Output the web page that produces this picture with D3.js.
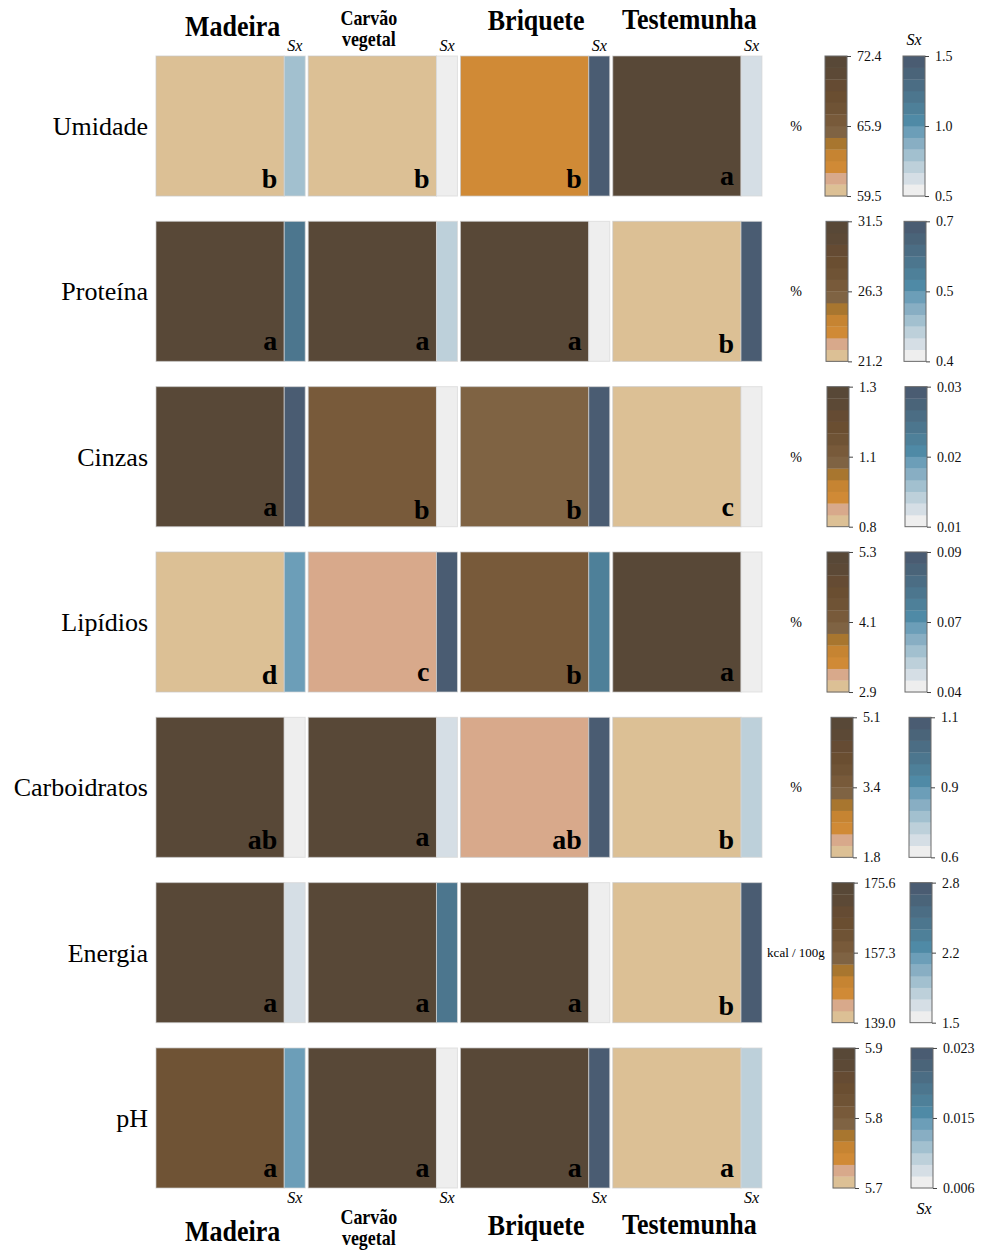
<!DOCTYPE html>
<html>
<head>
<meta charset="utf-8">
<script src="https://cdn.jsdelivr.net/npm/d3@7"></script>
<style>
  body { margin: 0; background: #fff; }
  svg { display: block; }
</style>
</head>
<body>
<svg id="chart" width="981" height="1251"></svg>
<script>
// Treatments (columns) and measured variables (rows)
const treatments = ["Madeira", "Carvão vegetal", "Briquete", "Testemunha"];
const variables = ["Umidade", "Proteína", "Cinzas", "Lipídios", "Carboidratos", "Energia", "pH"];
const units = ["%", "%", "%", "%", "%", "kcal / 100g", ""];

// Means per variable, in treatment order
const umidade      = [59.5, 60.1, 62.2, 72.4];
const proteina     = [31.2, 31.0, 31.5, 21.2];
const cinzas       = [1.31, 1.08, 1.04, 0.81];
const lipidios     = [2.9, 3.2, 4.2, 5.3];
const carboidratos = [4.9, 5.1, 2.2, 1.8];
const energia      = [175.6, 175.1, 174.8, 139.0];
const ph           = [5.82, 5.90, 5.89, 5.70];

// Standard errors (Sx) per variable, in treatment order
const umidadeSx      = [0.80, 0.50, 1.50, 0.62];
const proteinaSx     = [0.61, 0.46, 0.40, 0.70];
const cinzasSx       = [0.030, 0.010, 0.029, 0.010];
const lipidiosSx     = [0.063, 0.090, 0.071, 0.040];
const carboidratosSx = [0.60, 0.65, 1.10, 0.71];
const energiaSx      = [1.62, 2.40, 1.50, 2.80];
const phSx           = [0.0135, 0.006, 0.023, 0.009];

// Mean-comparison letters
const umidadeLetters      = ["b", "b", "b", "a"];
const proteinaLetters     = ["a", "a", "a", "b"];
const cinzasLetters       = ["a", "b", "b", "c"];
const lipidiosLetters     = ["d", "c", "b", "a"];
const carboidratosLetters = ["ab", "a", "ab", "b"];
const energiaLetters      = ["a", "a", "a", "b"];
const phLetters           = ["a", "a", "a", "a"];

// Legend tick labels (min, mid, max)
const meanTicks = [
  ["59.5", "65.9", "72.4"], ["21.2", "26.3", "31.5"], ["0.8", "1.1", "1.3"],
  ["2.9", "4.1", "5.3"], ["1.8", "3.4", "5.1"], ["139.0", "157.3", "175.6"], ["5.7", "5.8", "5.9"]
];
const sxTicks = [
  ["0.5", "1.0", "1.5"], ["0.4", "0.5", "0.7"], ["0.01", "0.02", "0.03"],
  ["0.04", "0.07", "0.09"], ["0.6", "0.9", "1.1"], ["1.5", "2.2", "2.8"], ["0.006", "0.015", "0.023"]
];

const means = [umidade, proteina, cinzas, lipidios, carboidratos, energia, ph];
const sxs = [umidadeSx, proteinaSx, cinzasSx, lipidiosSx, carboidratosSx, energiaSx, phSx];
const letters = [umidadeLetters, proteinaLetters, cinzasLetters, lipidiosLetters,
                 carboidratosLetters, energiaLetters, phLetters];

// 12-step palettes, low → high
const brownPalette = ["#dcc095", "#d8a98b", "#d08a36", "#c68432", "#a8762f", "#7f6343",
                      "#785a3a", "#6f5335", "#6a4e31", "#654b33", "#5c4936", "#584837"];
const bluePalette = ["#eeeeee", "#d5dee5", "#bdd0da", "#a2c0cf", "#88aec3", "#6c9eb8",
                     "#4f8aa6", "#4e8099", "#4c768e", "#4b6d84", "#4a6479", "#4a5c72"];

// ---- layout ----
const serif = "'Liberation Serif', 'Times New Roman', serif";
const svg = d3.select("#chart");

const x = d3.scaleBand().domain(treatments).range([156, 762]).paddingInner(0.02);
const y = d3.scaleBand().domain(variables).range([56, 1188]).paddingInner(0.153);
const sxW = 21;
const mainW = x.bandwidth() - sxW;

// legend placement per row (horizontal nudge)
const legendShift = [0, 1, 2, 2, 6, 7, 8];
const brownX = 825, blueX = 903, legendW = 22;
const headerDx = [2, -14, 1, 2];

// Header text with slight vertical stretch
function header(g, cx, cy, lines, size, lineGap) {
  const t = g.append("g").attr("transform", `translate(${cx},${cy}) scale(1,1.12)`);
  lines.forEach((s, i) => {
    t.append("text")
      .attr("x", 0).attr("y", i * lineGap)
      .attr("text-anchor", "middle")
      .attr("font-family", serif).attr("font-weight", "bold")
      .attr("font-size", size).attr("fill", "#000")
      .text(s);
  });
}

function headers(baseY, sxY, twoLineY) {
  const g = svg.append("g");
  treatments.forEach((tr, i) => {
    const cx = x(tr) + x.bandwidth() / 2 + headerDx[i];
    if (tr === "Carvão vegetal") {
      header(g, cx, twoLineY, ["Carvão", "vegetal"], 18, 19);
    } else {
      const dy = i === 0 ? 0 : (i === 2 ? -6 : -7);
      header(g, cx, baseY + dy, [tr], 26, 0);
    }
    g.append("text")
      .attr("x", x(tr) + mainW + sxW / 2).attr("y", sxY)
      .attr("text-anchor", "middle")
      .attr("font-family", serif).attr("font-style", "italic")
      .attr("font-size", 16).text("Sx");
  });
}

headers(36, 51, 25);
headers(1241, 1203, 1224);

// ---- rows ----
variables.forEach((v, r) => {
  const y0 = y(v), h = y.bandwidth();
  const vals = means[r], svals = sxs[r];
  const colMean = d3.scaleQuantize().domain(d3.extent(vals)).range(brownPalette);
  const colSx = d3.scaleQuantize().domain(d3.extent(svals)).range(bluePalette);

  // row label
  svg.append("text")
    .attr("x", 148).attr("y", y0 + h / 2)
    .attr("dy", "0.35em")
    .attr("text-anchor", "end")
    .attr("font-family", serif).attr("font-size", 26)
    .text(v);

  const row = svg.append("g");
  treatments.forEach((tr, i) => {
    row.append("rect")
      .attr("x", x(tr)).attr("y", y0)
      .attr("width", mainW).attr("height", h)
      .attr("fill", colMean(vals[i]))
      .attr("stroke", "rgba(200,200,200,0.7)").attr("stroke-width", 1);
    row.append("rect")
      .attr("x", x(tr) + mainW).attr("y", y0)
      .attr("width", sxW).attr("height", h)
      .attr("fill", colSx(svals[i]))
      .attr("stroke", "rgba(215,215,215,0.7)").attr("stroke-width", 1);
    const lt = letters[r][i];
    const tall = /[bd]/.test(lt);
    row.append("text")
      .attr("x", x(tr) + mainW - 7)
      .attr("y", y0 + h - (tall ? 8 : 11))
      .attr("text-anchor", "end")
      .attr("font-family", serif).attr("font-weight", "bold")
      .attr("font-size", 28).attr("fill", "#000")
      .text(lt);
  });

  // legends
  const shift = legendShift[r];
  const drawLegend = (lx, palette, ext, ticks) => {
    const g = svg.append("g");
    const band = d3.scaleBand().domain(d3.range(palette.length)).range([y0 + h, y0]);
    g.selectAll("rect.step").data(palette).join("rect")
      .attr("class", "step")
      .attr("x", lx).attr("y", (d, k) => band(k))
      .attr("width", legendW).attr("height", band.bandwidth() + 0.3)
      .attr("fill", d => d);
    g.append("rect")
      .attr("x", lx).attr("y", y0).attr("width", legendW).attr("height", h)
      .attr("fill", "none").attr("stroke", "#6a6a6a").attr("stroke-width", 1);
    const s = d3.scaleLinear().domain(ext).range([y0 + h, y0]);
    const mid = (ext[0] + ext[1]) / 2;
    const axis = d3.axisRight(s)
      .tickValues([ext[0], mid, ext[1]])
      .tickFormat((d, k) => ticks[k])
      .tickSize(4).tickPadding(6);
    const ag = g.append("g").attr("transform", `translate(${lx + legendW},0)`).call(axis);
    ag.select(".domain").remove();
    ag.selectAll("line").attr("stroke", "#444");
    ag.selectAll("text").attr("font-family", serif).attr("font-size", 14).attr("fill", "#111");
  };
  drawLegend(brownX + shift, brownPalette, d3.extent(vals), meanTicks[r]);
  drawLegend(blueX + shift, bluePalette, d3.extent(svals), sxTicks[r]);

  if (units[r]) {
    svg.append("text")
      .attr("x", 796).attr("y", y0 + h / 2).attr("dy", "0.35em")
      .attr("text-anchor", "middle")
      .attr("font-family", serif).attr("font-size", units[r] === "%" ? 14 : 13)
      .text(units[r]);
  }
});

// Sx legend titles
svg.append("text")
  .attr("x", blueX + legendW / 2).attr("y", 45)
  .attr("text-anchor", "middle").attr("font-family", serif)
  .attr("font-style", "italic").attr("font-size", 16).text("Sx");
svg.append("text")
  .attr("x", blueX + legendShift[6] + legendW / 2 + 2).attr("y", 1214)
  .attr("text-anchor", "middle").attr("font-family", serif)
  .attr("font-style", "italic").attr("font-size", 16).text("Sx");
</script>
</body>
</html>
